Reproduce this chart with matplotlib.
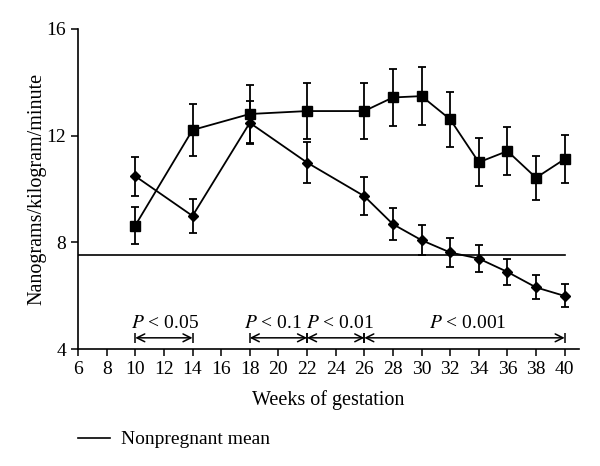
import matplotlib.pyplot as plt
from matplotlib.lines import Line2D

plt.rcParams['font.family'] = ['Liberation Serif', 'DejaVu Serif']

weeks = [10, 14, 18, 22, 26, 28, 30, 32, 34, 36, 38, 40]
square_vals = [8.63, 12.21, 12.81, 12.92, 12.92, 13.43, 13.48, 12.61, 11.0, 11.42, 10.42, 11.12]
square_err = [0.7, 0.97, 1.1, 1.05, 1.05, 1.07, 1.1, 1.02, 0.9, 0.9, 0.83, 0.9]
diamond_vals = [10.48, 8.99, 12.48, 10.99, 9.73, 8.68, 8.08, 7.62, 7.39, 6.89, 6.31, 5.99]
diamond_err = [0.73, 0.63, 0.8, 0.77, 0.7, 0.61, 0.56, 0.54, 0.52, 0.48, 0.45, 0.43]
nonpregnant_mean = 7.52

# significance spans: start, end, label, where the label sits
span_start = [10, 18, 22, 26]
span_end = [14, 22, 26, 40]
span_p = ["0.05", "0.1", "0.01", "0.001"]
span_label_x = [12.05, 19.6, 24.3, 33.2]

fig = plt.figure(figsize=(6, 4.66), dpi=100)
ax = fig.add_axes([0.13, 0.251, 0.835, 0.687])

ax.errorbar(weeks, square_vals, yerr=square_err, color='black', marker='s', markersize=7,
            linewidth=1.3, elinewidth=1.3, capsize=3, capthick=1.3)
ax.errorbar(weeks, diamond_vals, yerr=diamond_err, color='black', marker='D', markersize=5.5,
            linewidth=1.3, elinewidth=1.3, capsize=3, capthick=1.3)
ax.plot([6, 40], [nonpregnant_mean, nonpregnant_mean], color='black', linewidth=1.2)

for x0, x1, p, lx in zip(span_start, span_end, span_p, span_label_x):
    ax.annotate('', xy=(x1, 4.42), xytext=(x0, 4.42),
                arrowprops=dict(arrowstyle='<->', color='black', lw=1.1,
                                shrinkA=0, shrinkB=0, mutation_scale=14))
    ax.vlines([x0, x1], 4.22, 4.6, color='black', linewidth=1.1)
    ax.text(lx, 4.62, f"$P$ < {p}", ha='center', va='bottom', fontsize=14,
            math_fontfamily='stix')

ax.set_xlim(6, 41)
ax.set_ylim(4, 16)
ax.set_xticks(range(6, 41, 2))
ax.set_yticks([4, 8, 12, 16])
ax.spines['top'].set_visible(False)
ax.spines['right'].set_visible(False)
ax.spines['left'].set_linewidth(1.2)
ax.spines['bottom'].set_linewidth(1.2)
ax.tick_params(labelsize=14, width=1.1, length=5)
ax.set_xlabel("Weeks of gestation", fontsize=14.5, labelpad=9)
ax.set_ylabel("Nanograms/kilogram/minute", fontsize=14.5, labelpad=0)

fig.legend(handles=[Line2D([], [], color='black', linewidth=1.2)], labels=["Nonpregnant mean"],
           loc='lower left', bbox_to_anchor=(0.1, 0.0), frameon=False, fontsize=14,
           handlelength=1.65, handletextpad=0.6)

fig.savefig("out.png", dpi=100)
